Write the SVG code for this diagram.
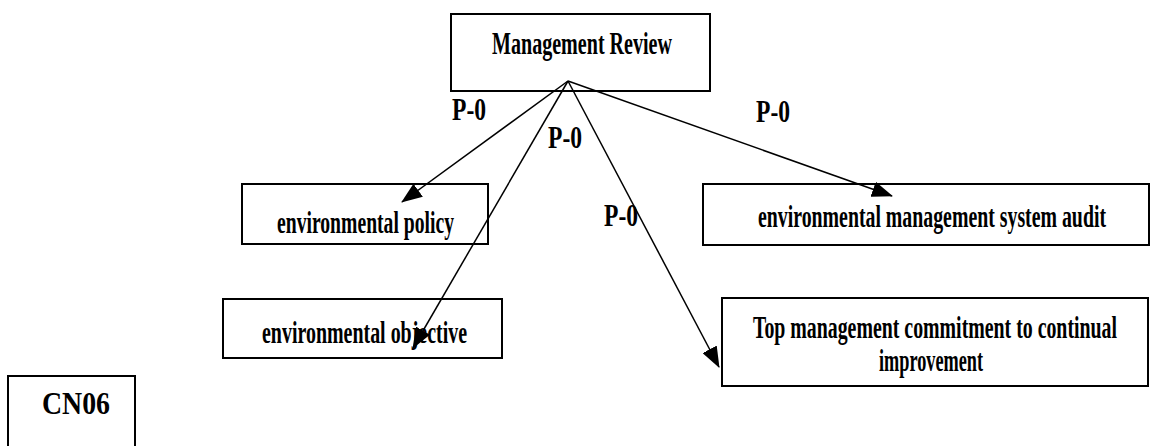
<svg xmlns="http://www.w3.org/2000/svg" width="1151" height="446" viewBox="0 0 1151 446">
  <style>
    .box { fill: #ffffff; stroke: #000000; stroke-width: 2; }
    .lbl { font-family: "Liberation Serif", "Times New Roman", serif; font-size: 32px; font-weight: bold; fill: #000000; }
    .edge { stroke: #000000; stroke-width: 1.5; fill: none; }
    .pl { font-family: "Liberation Serif", "Times New Roman", serif; font-size: 32px; font-weight: bold; fill: #000000; }
  </style>
  <defs>
    <marker id="arr" markerUnits="userSpaceOnUse" markerWidth="21" markerHeight="16" viewBox="0 0 21 16" refX="20" refY="8" orient="auto">
      <path d="M0,0 L21,8 L0,16 Z" fill="#000000"/>
    </marker>
  </defs>
  <rect width="1151" height="446" fill="#ffffff"/>

  <g id="node-management-review">
    <rect class="box" x="451" y="14" width="259" height="77"/>
    <text class="lbl" x="492" y="54" textLength="180" lengthAdjust="spacingAndGlyphs">Management Review</text>
  </g>

  <g id="node-environmental-policy">
    <rect class="box" x="242" y="184" width="246" height="60"/>
    <text class="lbl" x="277" y="233" textLength="177" lengthAdjust="spacingAndGlyphs">environmental policy</text>
  </g>

  <g id="node-ems-audit">
    <rect class="box" x="703" y="184" width="446" height="61"/>
    <text class="lbl" x="758" y="227" textLength="348" lengthAdjust="spacingAndGlyphs">environmental management system audit</text>
  </g>

  <g id="node-environmental-objective">
    <rect class="box" x="223" y="299" width="279" height="59"/>
    <text class="lbl" x="262" y="343" textLength="205" lengthAdjust="spacingAndGlyphs">environmental objective</text>
  </g>

  <g id="node-top-management">
    <rect class="box" x="722" y="298" width="426" height="88"/>
    <text class="lbl" x="753" y="338" textLength="364" lengthAdjust="spacingAndGlyphs">Top management commitment to continual</text>
    <text class="lbl" x="879" y="371" textLength="104" lengthAdjust="spacingAndGlyphs">improvement</text>
  </g>

  <g id="node-cn06">
    <rect class="box" x="8" y="376" width="127" height="80"/>
    <text class="lbl" x="42" y="414" textLength="68" lengthAdjust="spacingAndGlyphs">CN06</text>
  </g>

  <g id="connectors">
    <line class="edge" x1="568" y1="81" x2="402" y2="202" marker-end="url(#arr)"/>
    <line class="edge" x1="568" y1="81" x2="413" y2="348" marker-end="url(#arr)"/>
    <line class="edge" x1="568" y1="81" x2="892" y2="196" marker-end="url(#arr)"/>
    <line class="edge" x1="568" y1="81" x2="719" y2="367" marker-end="url(#arr)"/>
    <text class="pl" x="452" y="120" textLength="34" lengthAdjust="spacingAndGlyphs">P-0</text>
    <text class="pl" x="548" y="148" textLength="34" lengthAdjust="spacingAndGlyphs">P-0</text>
    <text class="pl" x="604" y="226" textLength="34" lengthAdjust="spacingAndGlyphs">P-0</text>
    <text class="pl" x="756" y="122" textLength="34" lengthAdjust="spacingAndGlyphs">P-0</text>
  </g>
</svg>
